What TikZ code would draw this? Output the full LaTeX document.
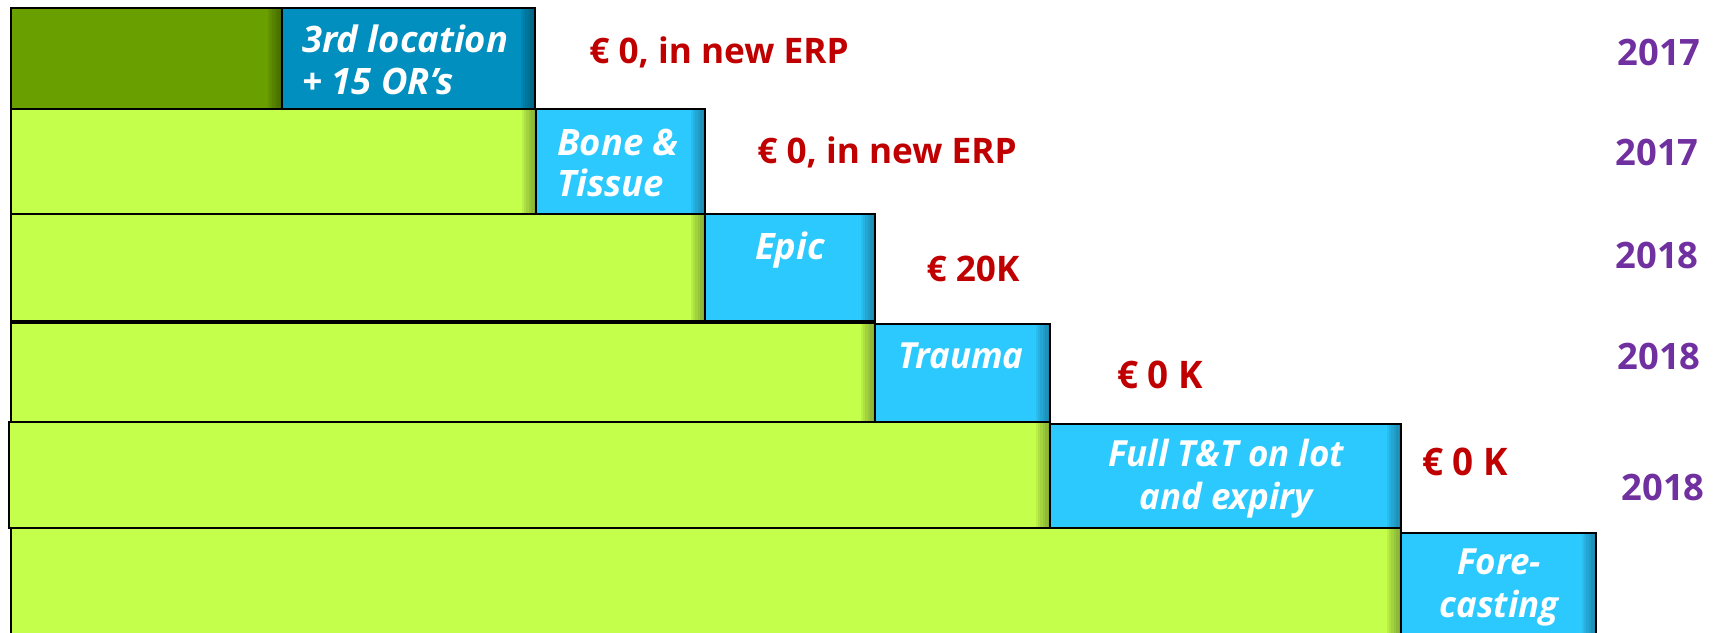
\documentclass[tikz,border=0pt]{standalone}
\usepackage{fontspec}
\setmainfont{Open Sans}
\newfontfamily\narrowfont[FakeStretch=0.97]{Open Sans}

\definecolor{oldgreen}{RGB}{106,159,0}
\definecolor{oldblue}{RGB}{0,143,191}
\definecolor{limegreen}{RGB}{196,255,76}
\definecolor{skyblue}{RGB}{44,201,255}
\definecolor{costred}{RGB}{192,0,0}
\definecolor{yearpurple}{RGB}{112,48,160}

\tikzset{every picture/.style={line width=0.75pt}}
\tikzset{
  stage/.style={draw=black, line width=1.2pt, fill=#1,
    path picture={
      \foreach \k in {1,...,6}{
        \fill [black, opacity=0.06]
          ([xshift=-\k*1.2pt]path picture bounding box.north east) rectangle (path picture bounding box.south east);
        \fill [black, opacity=0.06]
          ([yshift=\k*1.0pt]path picture bounding box.south west) rectangle (path picture bounding box.south east);
      }
    }},
  boxtext/.style={inner sep=0.75pt, text=white, align=left, font=\fontsize{18.2}{20.8}\selectfont\bfseries\itshape},
  narrowtext/.style={boxtext, align=center, font=\narrowfont\fontsize{18}{21.5}\selectfont\bfseries\itshape},
  costtext/.style={inner sep=0.75pt, text=costred, font=\fontsize{17.6}{20}\selectfont\bfseries},
  narrowcost/.style={costtext, font=\narrowfont\fontsize{19}{22}\selectfont\bfseries},
  yeartext/.style={inner sep=0.75pt, text=yearpurple, font=\fontsize{18.2}{21}\selectfont\bfseries}
}

\begin{document}
\begin{tikzpicture}[x=0.5pt,y=0.5pt,yscale=-1,xscale=1]
\useasboundingbox (0,0) rectangle (1719,632);

%Shape: Rectangle [row 1]
\draw [stage=oldgreen] (11,8) rectangle (282,109) ;
\draw [stage=oldblue] (282,8) rectangle (535,109) ;
%Shape: Rectangle [row 2]
\draw [stage=limegreen] (11,109) rectangle (536,214) ;
\draw [stage=skyblue] (536,109) rectangle (705,214) ;
%Shape: Rectangle [row 3]
\draw [stage=limegreen] (11,214) rectangle (705,321) ;
\draw [stage=skyblue] (705,214) rectangle (875,321) ;
%Shape: Rectangle [row 4]
\draw [stage=limegreen] (11,323) rectangle (875,422) ;
\draw [stage=skyblue] (875,324) rectangle (1050,422) ;
%Shape: Rectangle [row 5]
\draw [stage=limegreen] (9,422) rectangle (1050,528) ;
\draw [stage=skyblue] (1050,424) rectangle (1401,528) ;
%Shape: Rectangle [row 6]
\draw [stage=limegreen] (11,528) rectangle (1401,645) ;
\draw [stage=skyblue] (1401,533) rectangle (1596,645) ;

% Text Node
\draw (300,60) node [anchor=west][boxtext] (location) {3rd location\\+ 15 OR's};
% Text Node
\draw (555,163) node [anchor=west][boxtext] (bone) {Bone \&\\Tissue};
% Text Node
\draw (790,250) node [boxtext] (epic) {Epic};
% Text Node
\draw (961,356) node [narrowtext] (trauma) {Trauma};
% Text Node
\draw (1226,479) node [narrowtext] (tandt) {Full T\&T on lot\\and expiry};
% Text Node
\draw (1499,587) node [narrowtext] (forecast) {Fore-\\casting};

% Text Node
\draw (719,52) node [costtext] (cost1) {€ 0, in new ERP};
% Text Node
\draw (887,152) node [costtext] (cost2) {€ 0, in new ERP};
% Text Node
\draw (973,269) node [costtext] (cost3) {€ 20K};
% Text Node
\draw (1160,375) node [narrowcost] (cost4) {€ 0 K};
% Text Node
\draw (1465,462) node [narrowcost] (cost5) {€ 0 K};

% Text Node
\draw (1659,52) node [yeartext] (year1) {2017};
% Text Node
\draw (1657,152) node [yeartext] (year2) {2017};
% Text Node
\draw (1657,255) node [yeartext] (year3) {2018};
% Text Node
\draw (1659,356) node [yeartext] (year4) {2018};
% Text Node
\draw (1663,487) node [yeartext] (year5) {2018};
\end{tikzpicture}
\end{document}
